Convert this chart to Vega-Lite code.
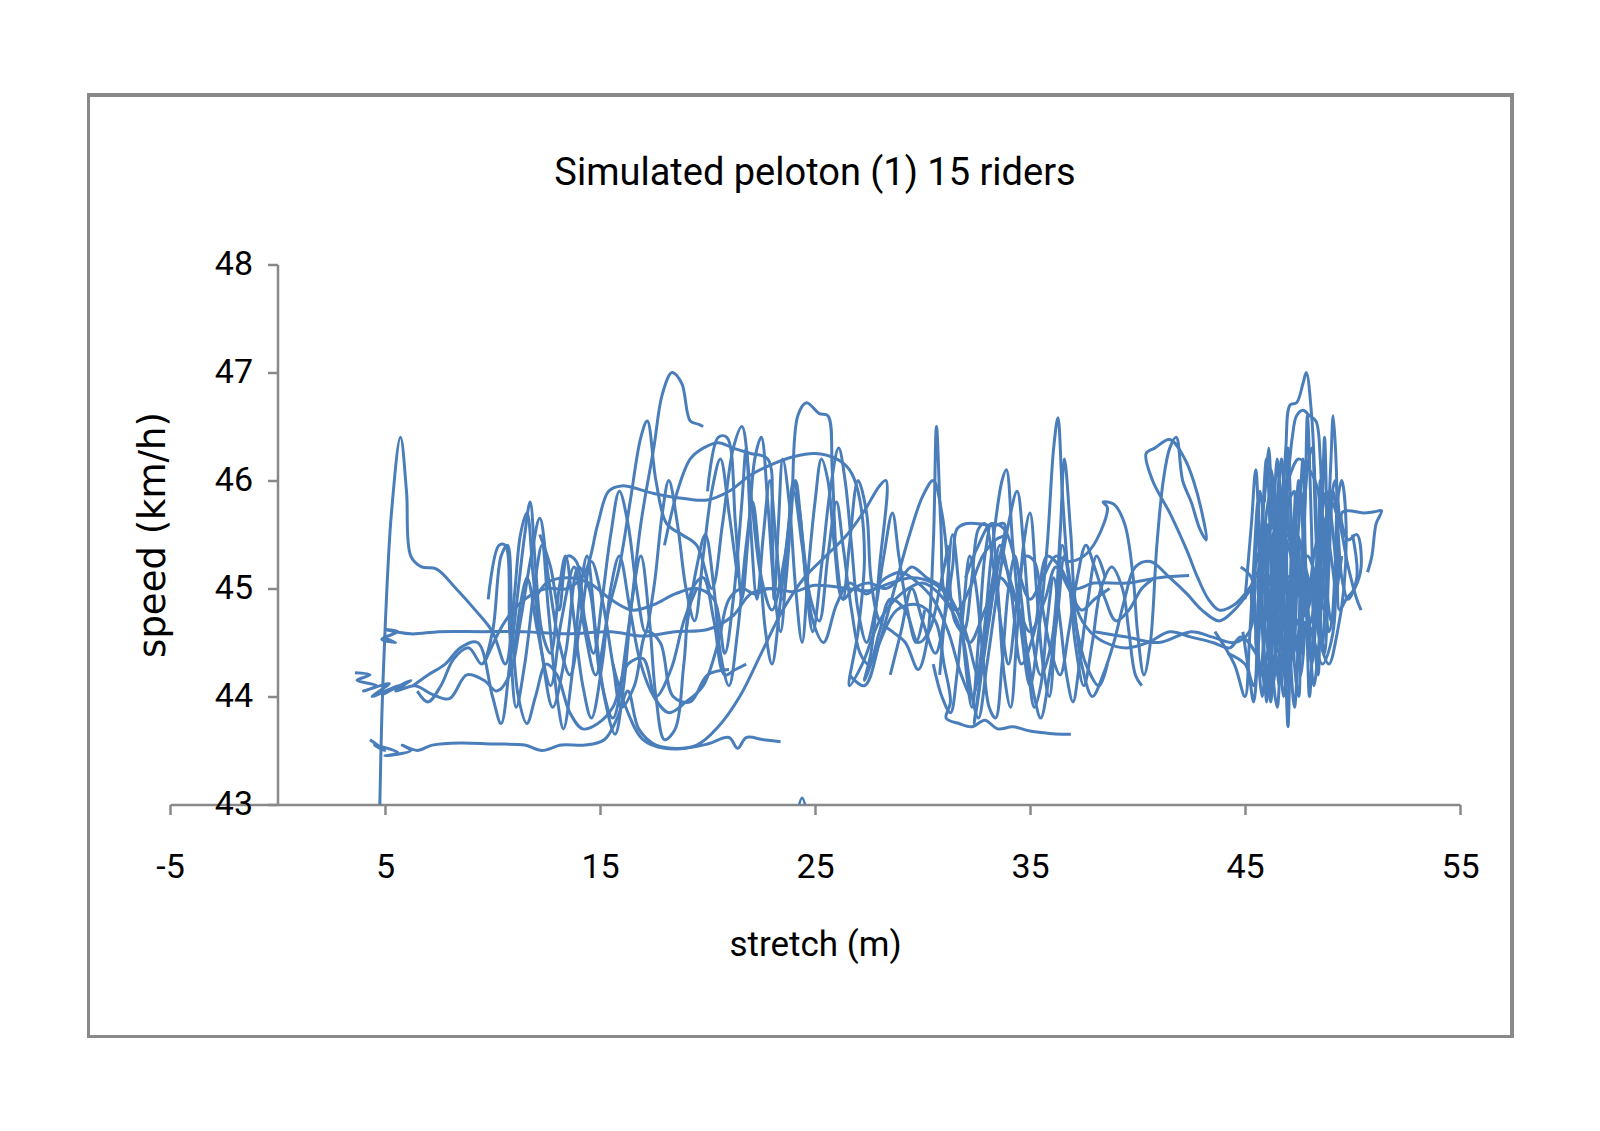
{
  "$schema": "https://vega.github.io/schema/vega-lite/v6.json",
  "autosize": "none",
  "width": 1290,
  "height": 540,
  "padding": {"left": 170, "top": 264.5, "right": 140, "bottom": 326.5},
  "background": "white",
  "config": {"view": {"stroke": null}, "font": "Roboto"},
  "title": {"text": "Simulated peloton (1) 15 riders", "fontSize": 38, "fontWeight": "normal", "color": "black", "offset": -99, "anchor": "middle", "font": "Roboto"},
  "data": {"values": [
{"r":1,"x":4.75,"y":42.9},{"r":1,"x":4.85,"y":43.8},{"r":1,"x":5.02,"y":44.7},{"r":1,"x":5.3,"y":45.7},{"r":1,"x":5.72,"y":46.4},{"r":1,"x":6.0,"y":45.9},{"r":1,"x":6.2,"y":45.3},{"r":1,"x":6.7,"y":45.2},{"r":1,"x":7.4,"y":45.18},{"r":1,"x":8.3,"y":45.0},{"r":1,"x":9.2,"y":44.8},{"r":1,"x":10.0,"y":44.6},{"r":1,"x":10.6,"y":44.3},{"r":1,"x":11.0,"y":44.9},{"r":1,"x":11.3,"y":45.5},{"r":1,"x":11.6,"y":45.7},{"r":1,"x":11.9,"y":45.1},{"r":1,"x":12.3,"y":44.4},{"r":1,"x":12.8,"y":43.9},{"r":1,"x":13.4,"y":44.4},{"r":1,"x":14.0,"y":45.2},{"r":1,"x":14.5,"y":45.0},{"r":1,"x":15.0,"y":44.2},{"r":1,"x":15.6,"y":43.8},{"r":1,"x":16.3,"y":44.6},{"r":1,"x":16.9,"y":45.6},{"r":1,"x":17.5,"y":46.3},{"r":1,"x":17.9,"y":46.8},{"r":1,"x":18.35,"y":47.0},{"r":1,"x":18.8,"y":46.9},{"r":1,"x":19.2,"y":46.55},{"r":1,"x":19.6,"y":46.52},{"r":1,"x":19.8,"y":46.5},
{"r":2,"x":4.9,"y":44.55},{"r":2,"x":5.5,"y":44.5},{"r":2,"x":4.85,"y":44.53},{"r":2,"x":5.6,"y":44.6},{"r":2,"x":5.0,"y":44.62},{"r":2,"x":6.2,"y":44.58},{"r":2,"x":7.5,"y":44.6},{"r":2,"x":9.5,"y":44.6},{"r":2,"x":11.5,"y":44.6},{"r":2,"x":13.5,"y":44.58},{"r":2,"x":15.5,"y":44.6},{"r":2,"x":17.0,"y":44.56},{"r":2,"x":18.5,"y":44.6},{"r":2,"x":20.0,"y":44.62},{"r":2,"x":21.2,"y":44.75},{"r":2,"x":22.0,"y":44.95},{"r":2,"x":23.0,"y":45.0},{"r":2,"x":24.0,"y":44.97},{"r":2,"x":25.0,"y":45.03},{"r":2,"x":26.5,"y":45.0},{"r":2,"x":27.5,"y":44.98},{"r":2,"x":28.5,"y":45.05},{"r":2,"x":29.5,"y":45.1},{"r":2,"x":30.5,"y":45.05},{"r":2,"x":31.3,"y":44.9},{"r":2,"x":32.0,"y":44.6},{"r":2,"x":32.6,"y":44.2},{"r":2,"x":33.1,"y":44.7},{"r":2,"x":33.6,"y":45.4},{"r":2,"x":34.1,"y":45.0},{"r":2,"x":34.6,"y":44.3},{"r":2,"x":35.2,"y":44.6},{"r":2,"x":35.8,"y":45.3},{"r":2,"x":36.4,"y":45.2},{"r":2,"x":37.0,"y":45.0},{"r":2,"x":38.0,"y":45.05},{"r":2,"x":39.5,"y":45.05},{"r":2,"x":41.0,"y":45.1},{"r":2,"x":42.4,"y":45.12},
{"r":3,"x":3.6,"y":44.22},{"r":3,"x":4.3,"y":44.2},{"r":3,"x":3.7,"y":44.15},{"r":3,"x":4.6,"y":44.1},{"r":3,"x":4.0,"y":44.05},{"r":3,"x":5.2,"y":44.12},{"r":3,"x":4.4,"y":44.0},{"r":3,"x":5.6,"y":44.1},{"r":3,"x":4.9,"y":44.02},{"r":3,"x":6.2,"y":44.15},{"r":3,"x":5.5,"y":44.05},{"r":3,"x":6.4,"y":44.1},{"r":3,"x":7.2,"y":44.02},{"r":3,"x":8.0,"y":43.98},{"r":3,"x":8.8,"y":44.2},{"r":3,"x":9.6,"y":44.15},{"r":3,"x":10.2,"y":44.05},{"r":3,"x":10.8,"y":44.2},{"r":3,"x":11.3,"y":44.7},{"r":3,"x":11.8,"y":45.3},{"r":3,"x":12.2,"y":45.65},{"r":3,"x":12.6,"y":45.1},{"r":3,"x":13.1,"y":44.5},{"r":3,"x":13.6,"y":44.2},{"r":3,"x":14.1,"y":44.7},{"r":3,"x":14.6,"y":45.25},{"r":3,"x":15.1,"y":44.9},{"r":3,"x":15.6,"y":44.3},{"r":3,"x":16.0,"y":43.9},{"r":3,"x":16.6,"y":44.1},{"r":3,"x":17.2,"y":44.6},{"r":3,"x":17.8,"y":44.5},{"r":3,"x":18.4,"y":44.0},{"r":3,"x":19.2,"y":43.95},{"r":3,"x":20.0,"y":44.2},{"r":3,"x":21.0,"y":44.25},
{"r":4,"x":4.3,"y":43.6},{"r":4,"x":5.0,"y":43.5},{"r":4,"x":4.5,"y":43.55},{"r":4,"x":5.6,"y":43.48},{"r":4,"x":5.0,"y":43.45},{"r":4,"x":6.2,"y":43.5},{"r":4,"x":5.8,"y":43.55},{"r":4,"x":6.5,"y":43.5},{"r":4,"x":7.2,"y":43.55},{"r":4,"x":8.5,"y":43.57},{"r":4,"x":10.0,"y":43.56},{"r":4,"x":11.5,"y":43.55},{"r":4,"x":12.3,"y":43.5},{"r":4,"x":13.2,"y":43.55},{"r":4,"x":14.3,"y":43.55},{"r":4,"x":15.2,"y":43.6},{"r":4,"x":15.8,"y":43.8},{"r":4,"x":16.3,"y":44.05},{"r":4,"x":16.8,"y":43.7},{"r":4,"x":17.6,"y":43.55},{"r":4,"x":18.8,"y":43.52},{"r":4,"x":20.0,"y":43.56},{"r":4,"x":21.0,"y":43.62},{"r":4,"x":21.4,"y":43.52},{"r":4,"x":21.8,"y":43.62},{"r":4,"x":22.6,"y":43.6},{"r":4,"x":23.4,"y":43.58},
{"r":5,"x":9.6,"y":44.3},{"r":5,"x":10.6,"y":44.7},{"r":5,"x":11.5,"y":44.9},{"r":5,"x":12.5,"y":45.0},{"r":5,"x":13.5,"y":45.0},{"r":5,"x":14.3,"y":45.15},{"r":5,"x":14.9,"y":45.6},{"r":5,"x":15.4,"y":45.9},{"r":5,"x":16.0,"y":45.95},{"r":5,"x":17.5,"y":45.88},{"r":5,"x":19.0,"y":45.83},{"r":5,"x":20.0,"y":45.82},{"r":5,"x":21.0,"y":45.9},{"r":5,"x":22.0,"y":46.05},{"r":5,"x":23.0,"y":46.15},{"r":5,"x":24.0,"y":46.22},{"r":5,"x":25.0,"y":46.25},{"r":5,"x":26.0,"y":46.2},{"r":5,"x":26.6,"y":46.1},{"r":5,"x":27.0,"y":45.9},{"r":5,"x":27.3,"y":45.3},{"r":5,"x":27.0,"y":44.6},{"r":5,"x":26.6,"y":44.1},{"r":5,"x":27.2,"y":44.3},{"r":5,"x":28.0,"y":44.7},{"r":5,"x":29.0,"y":44.95},{"r":5,"x":30.0,"y":45.05},{"r":5,"x":31.0,"y":44.9},{"r":5,"x":31.8,"y":44.6},{"r":5,"x":32.3,"y":44.0},{"r":5,"x":32.6,"y":43.8},{"r":5,"x":33.0,"y":44.3},{"r":5,"x":33.5,"y":45.0},{"r":5,"x":34.0,"y":45.6},{"r":5,"x":34.4,"y":45.9},{"r":5,"x":34.7,"y":45.4},{"r":5,"x":35.0,"y":44.7},{"r":5,"x":35.5,"y":44.2},{"r":5,"x":36.0,"y":44.5},{"r":5,"x":36.4,"y":45.5},{"r":5,"x":36.6,"y":46.2},{"r":5,"x":36.9,"y":45.5},{"r":5,"x":37.2,"y":44.8},{"r":5,"x":37.8,"y":44.6},{"r":5,"x":38.5,"y":44.5},{"r":5,"x":39.5,"y":44.45},{"r":5,"x":40.5,"y":44.5},{"r":5,"x":41.5,"y":44.6},{"r":5,"x":42.5,"y":44.55},{"r":5,"x":43.5,"y":44.5},{"r":5,"x":44.3,"y":44.45},{"r":5,"x":44.8,"y":44.55},{"r":5,"x":45.5,"y":44.4},{"r":5,"x":46.0,"y":44.0},
{"r":6,"x":15.6,"y":44.3},{"r":6,"x":16.2,"y":43.9},{"r":6,"x":17.0,"y":43.6},{"r":6,"x":18.0,"y":43.52},{"r":6,"x":19.5,"y":43.55},{"r":6,"x":20.5,"y":43.72},{"r":6,"x":21.5,"y":44.0},{"r":6,"x":22.5,"y":44.4},{"r":6,"x":23.5,"y":44.8},{"r":6,"x":24.5,"y":45.1},{"r":6,"x":25.5,"y":45.3},{"r":6,"x":26.5,"y":45.5},{"r":6,"x":27.3,"y":45.72},{"r":6,"x":28.0,"y":45.95},{"r":6,"x":28.3,"y":46.0},{"r":6,"x":28.0,"y":45.2},{"r":6,"x":27.6,"y":44.4},{"r":6,"x":27.3,"y":44.15},{"r":6,"x":28.0,"y":44.5},{"r":6,"x":28.8,"y":44.8},{"r":6,"x":29.8,"y":44.85},{"r":6,"x":30.6,"y":44.7},{"r":6,"x":31.0,"y":44.3},{"r":6,"x":31.3,"y":43.95},{"r":6,"x":31.1,"y":43.8},{"r":6,"x":31.7,"y":43.75},{"r":6,"x":32.3,"y":43.72},{"r":6,"x":32.9,"y":43.78},{"r":6,"x":33.5,"y":43.7},{"r":6,"x":34.2,"y":43.72},{"r":6,"x":35.0,"y":43.68},{"r":6,"x":35.8,"y":43.66},{"r":6,"x":36.5,"y":43.65},{"r":6,"x":36.9,"y":43.65},
{"r":7,"x":12.0,"y":44.9},{"r":7,"x":12.5,"y":45.05},{"r":7,"x":13.5,"y":45.1},{"r":7,"x":14.5,"y":45.05},{"r":7,"x":15.5,"y":44.9},{"r":7,"x":16.5,"y":44.8},{"r":7,"x":17.5,"y":44.85},{"r":7,"x":18.5,"y":44.95},{"r":7,"x":19.5,"y":45.0},{"r":7,"x":20.3,"y":44.9},{"r":7,"x":20.8,"y":44.4},{"r":7,"x":21.2,"y":44.9},{"r":7,"x":21.6,"y":45.8},{"r":7,"x":21.8,"y":46.3},{"r":7,"x":22.0,"y":45.6},{"r":7,"x":22.3,"y":44.9},{"r":7,"x":22.6,"y":45.5},{"r":7,"x":22.9,"y":46.0},{"r":7,"x":23.2,"y":45.4},{"r":7,"x":23.5,"y":44.9},{"r":7,"x":23.9,"y":45.7},{"r":7,"x":24.2,"y":46.6},{"r":7,"x":24.6,"y":46.72},{"r":7,"x":25.2,"y":46.62},{"r":7,"x":25.6,"y":46.6},{"r":7,"x":25.8,"y":46.1},{"r":7,"x":26.0,"y":45.3},{"r":7,"x":26.3,"y":44.9},{"r":7,"x":26.6,"y":45.4},{"r":7,"x":27.0,"y":46.0},{"r":7,"x":27.4,"y":45.7},{"r":7,"x":27.6,"y":45.1},{"r":7,"x":28.0,"y":44.7},{"r":7,"x":28.6,"y":44.6},{"r":7,"x":29.2,"y":44.5},{"r":7,"x":29.8,"y":44.25},{"r":7,"x":30.2,"y":44.5},{"r":7,"x":30.5,"y":45.4},{"r":7,"x":30.65,"y":46.5},{"r":7,"x":30.85,"y":45.6},{"r":7,"x":31.1,"y":44.9},{"r":7,"x":31.6,"y":44.8},{"r":7,"x":32.2,"y":45.0},{"r":7,"x":32.8,"y":45.3},{"r":7,"x":33.4,"y":45.45},{"r":7,"x":34.0,"y":45.5},
{"r":8,"x":11.0,"y":44.4},{"r":8,"x":11.6,"y":45.1},{"r":8,"x":12.1,"y":44.6},{"r":8,"x":12.7,"y":44.1},{"r":8,"x":13.2,"y":44.7},{"r":8,"x":13.8,"y":45.2},{"r":8,"x":14.3,"y":44.6},{"r":8,"x":14.8,"y":44.2},{"r":8,"x":15.4,"y":44.8},{"r":8,"x":15.9,"y":45.2},{"r":8,"x":16.4,"y":45.8},{"r":8,"x":16.9,"y":46.4},{"r":8,"x":17.2,"y":46.55},{"r":8,"x":17.6,"y":46.0},{"r":8,"x":18.1,"y":45.6},{"r":8,"x":18.8,"y":45.5},{"r":8,"x":19.5,"y":45.4},{"r":8,"x":20.2,"y":45.0},{"r":8,"x":20.7,"y":45.6},{"r":8,"x":21.2,"y":46.3},{"r":8,"x":21.6,"y":46.5},{"r":8,"x":22.0,"y":45.9},{"r":8,"x":22.5,"y":45.1},{"r":8,"x":23.0,"y":44.8},{"r":8,"x":23.6,"y":45.3},{"r":8,"x":24.0,"y":45.9},{"r":8,"x":24.4,"y":45.4},{"r":8,"x":24.9,"y":44.7},{"r":8,"x":25.4,"y":44.5},{"r":8,"x":26.0,"y":44.85},{"r":8,"x":26.6,"y":45.05},{"r":8,"x":27.4,"y":44.95},{"r":8,"x":28.3,"y":45.1},{"r":8,"x":29.0,"y":45.15},{"r":8,"x":29.8,"y":45.05},{"r":8,"x":30.5,"y":44.9},{"r":8,"x":31.2,"y":44.6},{"r":8,"x":31.8,"y":44.2},{"r":8,"x":32.3,"y":44.0},{"r":8,"x":32.8,"y":44.5},{"r":8,"x":33.2,"y":45.3},{"r":8,"x":33.7,"y":46.0},{"r":8,"x":33.9,"y":46.1},{"r":8,"x":34.2,"y":45.4},{"r":8,"x":34.6,"y":44.6},{"r":8,"x":35.0,"y":44.1},{"r":8,"x":35.4,"y":44.6},{"r":8,"x":35.8,"y":45.4},{"r":8,"x":36.1,"y":46.3},{"r":8,"x":36.3,"y":46.58},{"r":8,"x":36.5,"y":45.9},{"r":8,"x":36.8,"y":45.1},{"r":8,"x":37.2,"y":44.6},{"r":8,"x":37.6,"y":44.3},{"r":8,"x":38.2,"y":44.1},{"r":8,"x":38.6,"y":44.3},
{"r":9,"x":32.0,"y":45.1},{"r":9,"x":32.6,"y":45.4},{"r":9,"x":33.2,"y":45.6},{"r":9,"x":33.8,"y":45.55},{"r":9,"x":34.4,"y":45.2},{"r":9,"x":35.0,"y":44.9},{"r":9,"x":35.6,"y":45.1},{"r":9,"x":36.2,"y":45.3},{"r":9,"x":36.8,"y":45.25},{"r":9,"x":37.5,"y":45.3},{"r":9,"x":38.1,"y":45.45},{"r":9,"x":38.6,"y":45.75},{"r":9,"x":38.4,"y":45.8},{"r":9,"x":38.9,"y":45.78},{"r":9,"x":39.4,"y":45.6},{"r":9,"x":39.8,"y":45.1},{"r":9,"x":40.0,"y":44.6},{"r":9,"x":40.3,"y":44.2},{"r":9,"x":40.6,"y":44.5},{"r":9,"x":40.9,"y":45.4},{"r":9,"x":41.2,"y":46.0},{"r":9,"x":41.5,"y":46.3},{"r":9,"x":41.8,"y":46.4},{"r":9,"x":42.1,"y":46.0},{"r":9,"x":42.5,"y":45.8},{"r":9,"x":42.9,"y":45.55},{"r":9,"x":43.2,"y":45.45},{"r":9,"x":43.0,"y":45.7},{"r":9,"x":42.6,"y":46.0},{"r":9,"x":42.2,"y":46.2},{"r":9,"x":41.5,"y":46.38},{"r":9,"x":40.8,"y":46.3},{"r":9,"x":40.4,"y":46.25},{"r":9,"x":40.7,"y":46.0},{"r":9,"x":41.5,"y":45.7},{"r":9,"x":42.3,"y":45.35},{"r":9,"x":42.8,"y":45.1},{"r":9,"x":43.3,"y":44.9},{"r":9,"x":43.8,"y":44.8},{"r":9,"x":44.5,"y":44.85},{"r":9,"x":45.2,"y":45.0},{"r":9,"x":45.8,"y":45.2},{"r":9,"x":46.3,"y":45.0},{"r":9,"x":46.7,"y":44.6},{"r":9,"x":47.0,"y":44.9},{"r":9,"x":47.3,"y":45.3},
{"r":10,"x":28.5,"y":44.2},{"r":10,"x":29.0,"y":44.6},{"r":10,"x":29.5,"y":45.0},{"r":10,"x":30.0,"y":44.7},{"r":10,"x":30.6,"y":44.4},{"r":10,"x":31.0,"y":44.7},{"r":10,"x":31.4,"y":45.2},{"r":10,"x":31.6,"y":45.55},{"r":10,"x":32.0,"y":45.6},{"r":10,"x":32.6,"y":45.6},{"r":10,"x":33.3,"y":45.58},{"r":10,"x":33.8,"y":45.6},{"r":10,"x":33.5,"y":45.2},{"r":10,"x":33.0,"y":44.6},{"r":10,"x":32.6,"y":44.0},{"r":10,"x":32.4,"y":43.75},{"r":10,"x":32.7,"y":44.2},{"r":10,"x":33.1,"y":44.9},{"r":10,"x":33.6,"y":45.3},{"r":10,"x":34.2,"y":45.0},{"r":10,"x":34.8,"y":44.5},{"r":10,"x":35.2,"y":44.0},{"r":10,"x":35.5,"y":43.8},{"r":10,"x":35.9,"y":44.2},{"r":10,"x":36.3,"y":44.8},{"r":10,"x":36.6,"y":45.3},{"r":10,"x":37.0,"y":44.9},{"r":10,"x":37.4,"y":44.3},{"r":10,"x":37.9,"y":44.0},{"r":10,"x":38.4,"y":44.2},{"r":10,"x":38.9,"y":44.5},{"r":10,"x":39.4,"y":44.9},{"r":10,"x":39.9,"y":45.2},{"r":10,"x":40.6,"y":45.25},{"r":10,"x":41.5,"y":45.1},{"r":10,"x":42.3,"y":44.95},{"r":10,"x":43.0,"y":44.8},{"r":10,"x":43.8,"y":44.7},{"r":10,"x":44.5,"y":44.8},{"r":10,"x":45.3,"y":45.0},
{"r":11,"x":44.2,"y":44.4},{"r":11,"x":45.0,"y":44.3},{"r":11,"x":45.4,"y":44.1},{"r":11,"x":45.6,"y":44.8},{"r":11,"x":45.8,"y":45.6},{"r":11,"x":46.0,"y":46.2},{"r":11,"x":46.2,"y":45.3},{"r":11,"x":46.3,"y":44.2},{"r":11,"x":46.5,"y":43.9},{"r":11,"x":46.7,"y":44.8},{"r":11,"x":46.9,"y":45.6},{"r":11,"x":47.0,"y":46.3},{"r":11,"x":47.2,"y":45.2},{"r":11,"x":47.3,"y":44.3},{"r":11,"x":47.5,"y":44.0},{"r":11,"x":47.6,"y":44.9},{"r":11,"x":47.8,"y":45.8},{"r":11,"x":47.9,"y":46.6},{"r":11,"x":48.1,"y":45.5},{"r":11,"x":48.2,"y":44.6},{"r":11,"x":48.4,"y":44.2},{"r":11,"x":48.5,"y":45.0},{"r":11,"x":48.6,"y":45.8},{"r":11,"x":48.7,"y":46.4},{"r":11,"x":48.8,"y":45.4},{"r":11,"x":48.7,"y":44.8},{"r":11,"x":48.3,"y":45.1},{"r":11,"x":47.9,"y":45.3},{"r":11,"x":47.4,"y":45.0},{"r":11,"x":46.9,"y":44.7},{"r":11,"x":46.4,"y":45.1},{"r":11,"x":46.0,"y":45.4},{"r":11,"x":45.7,"y":44.9},{"r":11,"x":45.5,"y":44.5},{"r":11,"x":45.8,"y":44.2},{"r":11,"x":46.2,"y":44.6},{"r":11,"x":46.6,"y":45.2},{"r":11,"x":47.1,"y":45.6},{"r":11,"x":47.5,"y":45.2},{"r":11,"x":47.9,"y":44.9},{"r":11,"x":48.2,"y":45.3},{"r":11,"x":48.5,"y":45.6},{"r":11,"x":48.8,"y":45.9},{"r":11,"x":49.1,"y":45.5},{"r":11,"x":49.3,"y":45.0},
{"r":12,"x":38.0,"y":44.6},{"r":12,"x":39.5,"y":44.55},{"r":12,"x":41.0,"y":44.5},{"r":12,"x":42.5,"y":44.6},{"r":12,"x":43.5,"y":44.55},{"r":12,"x":44.5,"y":44.5},{"r":12,"x":45.2,"y":44.6},{"r":12,"x":45.5,"y":45.3},{"r":12,"x":45.7,"y":45.9},{"r":12,"x":45.9,"y":45.5},{"r":12,"x":46.1,"y":44.7},{"r":12,"x":46.3,"y":44.1},{"r":12,"x":46.5,"y":44.6},{"r":12,"x":46.7,"y":45.5},{"r":12,"x":46.9,"y":46.3},{"r":12,"x":47.1,"y":46.7},{"r":12,"x":47.4,"y":46.72},{"r":12,"x":47.7,"y":46.9},{"r":12,"x":47.85,"y":47.0},{"r":12,"x":48.1,"y":46.6},{"r":12,"x":48.3,"y":45.7},{"r":12,"x":48.4,"y":44.9},{"r":12,"x":48.6,"y":44.5},{"r":12,"x":48.8,"y":45.3},{"r":12,"x":49.0,"y":46.2},{"r":12,"x":49.1,"y":46.6},{"r":12,"x":49.25,"y":46.1},{"r":12,"x":49.3,"y":45.3},{"r":12,"x":49.4,"y":44.8},{"r":12,"x":49.7,"y":44.9},{"r":12,"x":50.1,"y":45.0},{"r":12,"x":50.4,"y":45.2},{"r":12,"x":50.2,"y":45.5},{"r":12,"x":49.8,"y":45.45},{"r":12,"x":49.5,"y":45.7},{"r":12,"x":49.8,"y":45.72},{"r":12,"x":50.5,"y":45.7},{"r":12,"x":51.0,"y":45.71},{"r":12,"x":51.35,"y":45.72},{"r":12,"x":51.1,"y":45.6},{"r":12,"x":50.9,"y":45.3},{"r":12,"x":50.7,"y":45.15},
{"r":13,"x":43.6,"y":44.6},{"r":13,"x":44.5,"y":44.3},{"r":13,"x":45.0,"y":44.0},{"r":13,"x":45.2,"y":44.5},{"r":13,"x":45.4,"y":45.2},{"r":13,"x":45.6,"y":45.8},{"r":13,"x":45.7,"y":45.3},{"r":13,"x":45.9,"y":44.4},{"r":13,"x":46.0,"y":43.95},{"r":13,"x":46.2,"y":44.7},{"r":13,"x":46.4,"y":45.5},{"r":13,"x":46.6,"y":46.0},{"r":13,"x":46.8,"y":45.1},{"r":13,"x":46.9,"y":44.2},{"r":13,"x":47.0,"y":43.72},{"r":13,"x":47.1,"y":44.3},{"r":13,"x":47.3,"y":45.0},{"r":13,"x":47.5,"y":45.6},{"r":13,"x":47.7,"y":46.2},{"r":13,"x":47.8,"y":45.3},{"r":13,"x":47.9,"y":44.5},{"r":13,"x":48.0,"y":44.0},{"r":13,"x":48.2,"y":44.7},{"r":13,"x":48.4,"y":45.4},{"r":13,"x":48.5,"y":46.0},{"r":13,"x":48.6,"y":45.4},{"r":13,"x":48.3,"y":44.9},{"r":13,"x":47.8,"y":44.6},{"r":13,"x":47.2,"y":44.8},{"r":13,"x":46.8,"y":45.2},{"r":13,"x":46.3,"y":45.0},{"r":13,"x":45.9,"y":44.7},{"r":13,"x":45.6,"y":45.0},{"r":13,"x":45.9,"y":45.4},{"r":13,"x":46.4,"y":45.3},{"r":13,"x":46.9,"y":45.0},{"r":13,"x":47.4,"y":44.7},{"r":13,"x":47.9,"y":44.8},{"r":13,"x":48.3,"y":45.2},{"r":13,"x":48.7,"y":45.6},{"r":13,"x":49.0,"y":45.8},{"r":13,"x":49.4,"y":45.6},{"r":13,"x":49.8,"y":45.2},{"r":13,"x":50.2,"y":44.9},{"r":13,"x":50.4,"y":44.8},
{"r":14,"x":6.3,"y":44.1},{"r":14,"x":7.0,"y":44.2},{"r":14,"x":7.8,"y":44.3},{"r":14,"x":8.5,"y":44.45},{"r":14,"x":9.3,"y":44.5},{"r":14,"x":10.0,"y":44.0},{"r":14,"x":10.4,"y":43.75},{"r":14,"x":10.8,"y":44.3},{"r":14,"x":11.2,"y":45.0},{"r":14,"x":11.5,"y":45.5},{"r":14,"x":11.75,"y":45.8},{"r":14,"x":12.0,"y":45.2},{"r":14,"x":12.3,"y":44.6},{"r":14,"x":12.7,"y":44.4},{"r":14,"x":13.1,"y":45.0},{"r":14,"x":13.4,"y":45.3},{"r":14,"x":13.8,"y":44.7},{"r":14,"x":14.2,"y":44.1},{"r":14,"x":14.6,"y":43.8},{"r":14,"x":15.1,"y":44.3},{"r":14,"x":15.5,"y":45.0},{"r":14,"x":15.9,"y":45.3},{"r":14,"x":16.4,"y":44.8},{"r":14,"x":16.9,"y":44.3},{"r":14,"x":17.5,"y":44.0},{"r":14,"x":18.2,"y":43.85},{"r":14,"x":19.0,"y":43.95},{"r":14,"x":19.8,"y":44.1},{"r":14,"x":20.5,"y":44.5},{"r":14,"x":21.0,"y":44.9},{"r":14,"x":21.6,"y":45.0},{"r":14,"x":22.2,"y":44.95},{"r":14,"x":22.8,"y":45.0},{"r":14,"x":23.4,"y":44.98},
{"r":15,"x":18.0,"y":45.4},{"r":15,"x":18.6,"y":45.9},{"r":15,"x":19.2,"y":46.2},{"r":15,"x":19.8,"y":46.3},{"r":15,"x":20.5,"y":46.35},{"r":15,"x":21.2,"y":46.3},{"r":15,"x":22.0,"y":46.25},{"r":15,"x":22.8,"y":46.2},{"r":15,"x":23.0,"y":45.6},{"r":15,"x":23.1,"y":44.9},{"r":15,"x":23.3,"y":45.6},{"r":15,"x":23.5,"y":46.2},{"r":15,"x":23.8,"y":45.8},{"r":15,"x":24.1,"y":45.0},{"r":15,"x":24.4,"y":44.5},{"r":15,"x":24.7,"y":45.2},{"r":15,"x":25.0,"y":45.8},{"r":15,"x":25.3,"y":46.2},{"r":15,"x":25.6,"y":46.0},{"r":15,"x":25.9,"y":45.4},{"r":15,"x":26.3,"y":44.9},{"r":15,"x":26.8,"y":45.0},{"r":15,"x":27.5,"y":45.05},{"r":15,"x":28.3,"y":45.0},{"r":15,"x":29.0,"y":45.1},{"r":15,"x":29.5,"y":45.2},{"r":15,"x":30.2,"y":45.1},{"r":15,"x":31.0,"y":45.0},{"r":15,"x":31.6,"y":44.8},{"r":15,"x":32.2,"y":44.5},{"r":15,"x":32.9,"y":44.8},{"r":15,"x":33.6,"y":45.1},{"r":15,"x":34.3,"y":44.9},{"r":15,"x":35.0,"y":44.6},{"r":15,"x":35.7,"y":44.9},{"r":15,"x":36.2,"y":45.2},{"r":15,"x":36.8,"y":45.0},{"r":15,"x":37.4,"y":44.8},{"r":15,"x":38.0,"y":44.9},{"r":15,"x":38.7,"y":45.0},
{"r":16,"x":23.9,"y":42.6},{"r":16,"x":24.4,"y":43.06},{"r":16,"x":24.9,"y":42.6},
{"r":17,"x":9.8,"y":44.9},{"r":17,"x":10.3,"y":45.4},{"r":17,"x":10.6,"y":45.4},{"r":17,"x":10.8,"y":44.6},{"r":17,"x":11.1,"y":43.9},{"r":17,"x":11.5,"y":44.3},{"r":17,"x":12.0,"y":45.1},{"r":17,"x":12.3,"y":45.4},{"r":17,"x":12.6,"y":44.8},{"r":17,"x":13.0,"y":44.0},{"r":17,"x":13.3,"y":43.7},{"r":17,"x":13.7,"y":44.2},{"r":17,"x":14.1,"y":45.0},{"r":17,"x":14.4,"y":45.3},{"r":17,"x":14.8,"y":44.6},{"r":17,"x":15.2,"y":44.0},{"r":17,"x":15.7,"y":43.65},{"r":17,"x":16.1,"y":44.1},{"r":17,"x":16.5,"y":44.9},{"r":17,"x":16.9,"y":45.3},{"r":17,"x":17.3,"y":44.7},{"r":17,"x":17.6,"y":44.0},{"r":17,"x":18.0,"y":43.6},{"r":17,"x":18.5,"y":43.7},{"r":17,"x":18.9,"y":44.3},{"r":17,"x":19.3,"y":45.0},{"r":17,"x":19.8,"y":45.1},{"r":17,"x":20.3,"y":44.7},{"r":17,"x":20.8,"y":44.2},{"r":17,"x":21.3,"y":44.25},{"r":17,"x":21.8,"y":44.3},
{"r":18,"x":20.0,"y":45.9},{"r":18,"x":20.5,"y":46.4},{"r":18,"x":20.9,"y":46.4},{"r":18,"x":21.3,"y":45.6},{"r":18,"x":21.6,"y":44.9},{"r":18,"x":21.9,"y":45.5},{"r":18,"x":22.2,"y":46.2},{"r":18,"x":22.5,"y":46.4},{"r":18,"x":22.8,"y":45.8},{"r":18,"x":23.1,"y":45.0},{"r":18,"x":23.4,"y":44.6},{"r":18,"x":23.7,"y":45.3},{"r":18,"x":24.0,"y":46.0},{"r":18,"x":24.3,"y":45.7},{"r":18,"x":24.6,"y":45.0},{"r":18,"x":24.9,"y":44.6},{"r":18,"x":25.3,"y":45.2},{"r":18,"x":25.7,"y":45.9},{"r":18,"x":26.1,"y":46.3},{"r":18,"x":26.4,"y":46.0},{"r":18,"x":26.7,"y":45.4},{"r":18,"x":27.0,"y":44.8},{"r":18,"x":27.4,"y":44.5},{"r":18,"x":27.8,"y":44.8},{"r":18,"x":28.2,"y":45.3},{"r":18,"x":28.6,"y":45.7},{"r":18,"x":28.9,"y":45.3},{"r":18,"x":29.3,"y":44.8},{"r":18,"x":29.7,"y":44.5},{"r":18,"x":30.1,"y":44.8},
{"r":19,"x":30.8,"y":44.2},{"r":19,"x":31.1,"y":44.9},{"r":19,"x":31.4,"y":45.5},{"r":19,"x":31.7,"y":45.0},{"r":19,"x":32.0,"y":44.3},{"r":19,"x":32.3,"y":43.9},{"r":19,"x":32.6,"y":44.5},{"r":19,"x":32.9,"y":45.3},{"r":19,"x":33.2,"y":45.6},{"r":19,"x":33.5,"y":45.0},{"r":19,"x":33.8,"y":44.2},{"r":19,"x":34.1,"y":43.9},{"r":19,"x":34.4,"y":44.6},{"r":19,"x":34.7,"y":45.4},{"r":19,"x":35.0,"y":45.7},{"r":19,"x":35.3,"y":45.0},{"r":19,"x":35.6,"y":44.3},{"r":19,"x":35.9,"y":44.0},{"r":19,"x":36.2,"y":44.7},{"r":19,"x":36.5,"y":45.4},{"r":19,"x":36.8,"y":45.1},{"r":19,"x":37.1,"y":44.5},{"r":19,"x":37.5,"y":44.1},{"r":19,"x":37.9,"y":44.5},{"r":19,"x":38.3,"y":45.0},{"r":19,"x":38.8,"y":45.2},{"r":19,"x":39.3,"y":45.0},{"r":19,"x":39.6,"y":44.6},{"r":19,"x":39.9,"y":44.2},{"r":19,"x":40.2,"y":44.1},
{"r":20,"x":44.8,"y":45.2},{"r":20,"x":45.3,"y":45.1},{"r":20,"x":45.5,"y":44.6},{"r":20,"x":45.7,"y":44.2},{"r":20,"x":45.9,"y":44.6},{"r":20,"x":46.1,"y":45.3},{"r":20,"x":46.3,"y":45.9},{"r":20,"x":46.5,"y":45.4},{"r":20,"x":46.7,"y":44.7},{"r":20,"x":46.9,"y":44.1},{"r":20,"x":47.1,"y":44.5},{"r":20,"x":47.3,"y":45.3},{"r":20,"x":47.5,"y":46.0},{"r":20,"x":47.7,"y":45.5},{"r":20,"x":47.9,"y":44.8},{"r":20,"x":48.1,"y":44.3},{"r":20,"x":48.3,"y":44.7},{"r":20,"x":48.5,"y":45.4},{"r":20,"x":48.4,"y":45.9},{"r":20,"x":48.0,"y":46.1},{"r":20,"x":47.5,"y":46.2},{"r":20,"x":47.0,"y":46.0},{"r":20,"x":46.6,"y":45.7},{"r":20,"x":46.2,"y":45.4},{"r":20,"x":45.9,"y":45.0},{"r":20,"x":46.2,"y":44.6},{"r":20,"x":46.6,"y":44.4},{"r":20,"x":47.0,"y":44.3},{"r":20,"x":47.4,"y":44.5},{"r":20,"x":47.8,"y":44.9},{"r":20,"x":48.2,"y":45.1},{"r":20,"x":48.6,"y":45.0},{"r":20,"x":48.9,"y":44.6},{"r":20,"x":49.2,"y":44.9},{"r":20,"x":49.5,"y":45.3},
{"r":21,"x":45.0,"y":44.9},{"r":21,"x":45.3,"y":45.6},{"r":21,"x":45.5,"y":46.1},{"r":21,"x":45.7,"y":45.2},{"r":21,"x":45.9,"y":44.3},{"r":21,"x":46.1,"y":44.0},{"r":21,"x":46.3,"y":44.8},{"r":21,"x":46.5,"y":45.7},{"r":21,"x":46.7,"y":46.2},{"r":21,"x":46.9,"y":45.3},{"r":21,"x":47.1,"y":44.4},{"r":21,"x":47.3,"y":43.9},{"r":21,"x":47.5,"y":44.6},{"r":21,"x":47.7,"y":45.5},{"r":21,"x":47.9,"y":46.1},{"r":21,"x":48.1,"y":46.3},{"r":21,"x":48.3,"y":45.5},{"r":21,"x":48.5,"y":44.7},{"r":21,"x":48.7,"y":44.4},{"r":21,"x":48.9,"y":45.2},{"r":21,"x":49.1,"y":45.9},{"r":21,"x":49.3,"y":45.6},{"r":21,"x":49.5,"y":45.1},{"r":21,"x":49.8,"y":44.9},{"r":21,"x":50.2,"y":45.1},{"r":21,"x":50.0,"y":45.5},
{"r":22,"x":6.5,"y":44.05},{"r":22,"x":7.0,"y":43.95},{"r":22,"x":7.6,"y":44.1},{"r":22,"x":8.2,"y":44.35},{"r":22,"x":8.9,"y":44.45},{"r":22,"x":9.5,"y":44.3},{"r":22,"x":10.0,"y":44.6},{"r":22,"x":10.4,"y":45.3},{"r":22,"x":10.7,"y":45.4},{"r":22,"x":10.9,"y":44.7},{"r":22,"x":11.2,"y":44.0},{"r":22,"x":11.6,"y":43.75},{"r":22,"x":12.0,"y":44.0},{"r":22,"x":12.5,"y":44.3},{"r":22,"x":13.0,"y":44.2},{"r":22,"x":13.6,"y":43.85},{"r":22,"x":14.2,"y":43.7},{"r":22,"x":14.9,"y":43.75},{"r":22,"x":15.6,"y":43.9},{"r":22,"x":16.3,"y":44.3},{"r":22,"x":17.0,"y":44.35},{"r":22,"x":17.6,"y":44.0},{"r":22,"x":18.3,"y":44.25},{"r":22,"x":18.9,"y":44.7},{"r":22,"x":19.5,"y":45.0},
{"r":23,"x":19.0,"y":44.6},{"r":23,"x":19.5,"y":45.2},{"r":23,"x":19.9,"y":45.5},{"r":23,"x":20.3,"y":45.0},{"r":23,"x":20.6,"y":44.4},{"r":23,"x":21.0,"y":44.1},{"r":23,"x":21.4,"y":44.6},{"r":23,"x":21.8,"y":45.4},{"r":23,"x":22.1,"y":45.8},{"r":23,"x":22.4,"y":45.3},{"r":23,"x":22.7,"y":44.6},{"r":23,"x":23.0,"y":44.3},{"r":23,"x":23.4,"y":44.9},{"r":23,"x":23.8,"y":45.6},{"r":23,"x":24.1,"y":46.0},{"r":23,"x":24.4,"y":45.5},{"r":23,"x":24.8,"y":44.9},{"r":23,"x":25.2,"y":44.7},{"r":23,"x":25.6,"y":45.3},{"r":23,"x":26.0,"y":45.8},{"r":23,"x":26.3,"y":45.4},{"r":23,"x":26.7,"y":44.8},{"r":23,"x":27.1,"y":44.4},{"r":23,"x":27.5,"y":44.3},{"r":23,"x":28.0,"y":44.6},{"r":23,"x":28.5,"y":44.9},{"r":23,"x":29.2,"y":44.8},{"r":23,"x":29.8,"y":44.5},{"r":23,"x":30.3,"y":44.6},{"r":23,"x":30.8,"y":45.0},{"r":23,"x":31.2,"y":45.4},
{"r":24,"x":26.6,"y":44.2},{"r":24,"x":27.3,"y":44.1},{"r":24,"x":28.0,"y":44.5},{"r":24,"x":28.7,"y":45.0},{"r":24,"x":29.4,"y":45.5},{"r":24,"x":30.0,"y":45.85},{"r":24,"x":30.5,"y":46.0},{"r":24,"x":30.9,"y":45.7},{"r":24,"x":31.2,"y":45.2},{"r":24,"x":31.5,"y":44.7},{"r":24,"x":31.9,"y":44.6},{"r":24,"x":32.3,"y":45.1},{"r":24,"x":32.6,"y":45.55},{"r":24,"x":32.9,"y":45.6},{"r":24,"x":33.3,"y":45.2},{"r":24,"x":33.7,"y":44.6},{"r":24,"x":34.0,"y":44.3},{"r":24,"x":34.4,"y":44.9},{"r":24,"x":34.8,"y":45.3},{"r":24,"x":35.2,"y":45.25},{"r":24,"x":35.6,"y":44.8},{"r":24,"x":36.0,"y":44.4},{"r":24,"x":36.4,"y":44.2},{"r":24,"x":36.8,"y":44.6},{"r":24,"x":37.2,"y":45.1},{"r":24,"x":37.6,"y":45.4},{"r":24,"x":38.0,"y":45.2},{"r":24,"x":38.5,"y":44.9},{"r":24,"x":39.0,"y":44.7},{"r":24,"x":39.6,"y":44.8},{"r":24,"x":40.2,"y":45.0},{"r":24,"x":40.8,"y":45.1},
{"r":25,"x":44.9,"y":44.6},{"r":25,"x":45.2,"y":44.2},{"r":25,"x":45.4,"y":43.95},{"r":25,"x":45.6,"y":44.4},{"r":25,"x":45.8,"y":45.1},{"r":25,"x":46.0,"y":45.7},{"r":25,"x":46.2,"y":45.9},{"r":25,"x":46.4,"y":45.3},{"r":25,"x":46.6,"y":44.5},{"r":25,"x":46.8,"y":44.0},{"r":25,"x":47.0,"y":44.4},{"r":25,"x":47.2,"y":45.1},{"r":25,"x":47.4,"y":45.7},{"r":25,"x":47.6,"y":45.9},{"r":25,"x":47.8,"y":45.3},{"r":25,"x":48.0,"y":44.6},{"r":25,"x":48.2,"y":44.1},{"r":25,"x":48.4,"y":44.4},{"r":25,"x":48.6,"y":45.0},{"r":25,"x":48.8,"y":45.5},{"r":25,"x":49.0,"y":45.3},{"r":25,"x":49.2,"y":44.9},{"r":25,"x":49.0,"y":44.5},{"r":25,"x":48.6,"y":44.3},{"r":25,"x":48.1,"y":44.6},{"r":25,"x":47.6,"y":44.9},{"r":25,"x":47.1,"y":45.1},{"r":25,"x":46.6,"y":45.1},{"r":25,"x":46.1,"y":44.9},{"r":25,"x":45.6,"y":44.7},{"r":25,"x":45.3,"y":44.9},{"r":25,"x":45.6,"y":45.3},{"r":25,"x":46.0,"y":45.5},{"r":25,"x":46.5,"y":45.6},{"r":25,"x":47.0,"y":45.4},{"r":25,"x":47.5,"y":45.0},{"r":25,"x":48.0,"y":44.9},{"r":25,"x":48.5,"y":45.3},{"r":25,"x":48.9,"y":45.7},{"r":25,"x":49.2,"y":46.0},{"r":25,"x":49.4,"y":45.6},
{"r":26,"x":45.6,"y":45.0},{"r":26,"x":45.8,"y":45.6},{"r":26,"x":46.0,"y":46.0},{"r":26,"x":46.2,"y":46.1},{"r":26,"x":46.4,"y":45.6},{"r":26,"x":46.6,"y":45.0},{"r":26,"x":46.8,"y":45.4},{"r":26,"x":47.0,"y":46.0},{"r":26,"x":47.2,"y":46.4},{"r":26,"x":47.4,"y":46.6},{"r":26,"x":47.7,"y":46.65},{"r":26,"x":48.0,"y":46.6},{"r":26,"x":48.3,"y":46.55},{"r":26,"x":48.5,"y":46.2},{"r":26,"x":48.6,"y":45.6},{"r":26,"x":48.8,"y":45.0},{"r":26,"x":49.0,"y":44.7},{"r":26,"x":49.2,"y":45.2},{"r":26,"x":49.3,"y":45.8},{"r":26,"x":49.5,"y":46.0},{"r":26,"x":49.7,"y":45.6},{"r":26,"x":49.6,"y":45.0},{"r":26,"x":49.3,"y":44.6},{"r":26,"x":48.9,"y":44.3},{"r":26,"x":48.5,"y":44.5},{"r":26,"x":48.2,"y":44.9},{"r":26,"x":47.8,"y":45.2},{"r":26,"x":47.4,"y":45.5},{"r":26,"x":47.0,"y":45.5},{"r":26,"x":46.6,"y":45.3},{"r":26,"x":46.3,"y":44.9},{"r":26,"x":46.1,"y":44.5},
{"r":27,"x":30.5,"y":44.3},{"r":27,"x":30.9,"y":44.0},{"r":27,"x":31.3,"y":43.85},{"r":27,"x":31.6,"y":44.2},{"r":27,"x":31.9,"y":44.8},{"r":27,"x":32.2,"y":45.3},{"r":27,"x":32.5,"y":45.0},{"r":27,"x":32.8,"y":44.4},{"r":27,"x":33.1,"y":43.9},{"r":27,"x":33.4,"y":43.8},{"r":27,"x":33.7,"y":44.3},{"r":27,"x":34.0,"y":45.0},{"r":27,"x":34.3,"y":45.3},{"r":27,"x":34.6,"y":44.9},{"r":27,"x":34.9,"y":44.3},{"r":27,"x":35.2,"y":43.9},{"r":27,"x":35.5,"y":44.1},{"r":27,"x":35.8,"y":44.7},{"r":27,"x":36.1,"y":45.1},{"r":27,"x":36.4,"y":44.7},{"r":27,"x":36.7,"y":44.2},{"r":27,"x":37.0,"y":43.95},{"r":27,"x":37.3,"y":44.3},{"r":27,"x":37.7,"y":44.9},{"r":27,"x":38.1,"y":45.3},{"r":27,"x":38.5,"y":45.1},
{"r":28,"x":12.2,"y":45.5},{"r":28,"x":12.7,"y":45.2},{"r":28,"x":13.1,"y":44.8},{"r":28,"x":13.5,"y":45.3},{"r":28,"x":13.9,"y":45.25},{"r":28,"x":14.3,"y":44.7},{"r":28,"x":14.7,"y":44.4},{"r":28,"x":15.1,"y":44.9},{"r":28,"x":15.5,"y":45.5},{"r":28,"x":15.9,"y":45.9},{"r":28,"x":16.3,"y":45.6},{"r":28,"x":16.7,"y":45.0},{"r":28,"x":17.1,"y":44.6},{"r":28,"x":17.5,"y":45.0},{"r":28,"x":17.9,"y":45.7},{"r":28,"x":18.2,"y":46.0},{"r":28,"x":18.6,"y":45.6},{"r":28,"x":19.0,"y":45.0},{"r":28,"x":19.4,"y":44.7},{"r":28,"x":19.8,"y":45.3},{"r":28,"x":20.2,"y":45.9},{"r":28,"x":20.6,"y":46.2},{"r":28,"x":21.0,"y":45.7},{"r":28,"x":21.4,"y":45.1},
{"r":29,"x":45.8,"y":45.0},{"r":29,"x":46.0,"y":45.6},{"r":29,"x":46.1,"y":44.5},{"r":29,"x":46.3,"y":45.5},{"r":29,"x":46.4,"y":44.4},{"r":29,"x":46.6,"y":45.7},{"r":29,"x":46.7,"y":44.6},{"r":29,"x":46.9,"y":45.5},{"r":29,"x":47.0,"y":44.3},{"r":29,"x":47.2,"y":45.6},{"r":29,"x":47.3,"y":44.5},{"r":29,"x":47.5,"y":45.4},{"r":29,"x":47.6,"y":44.4},{"r":29,"x":47.8,"y":45.3},{"r":29,"x":47.7,"y":44.8},{"r":29,"x":47.4,"y":45.1},{"r":29,"x":47.1,"y":44.9},{"r":29,"x":46.8,"y":45.2},{"r":29,"x":46.5,"y":44.8},{"r":29,"x":46.2,"y":45.1},{"r":29,"x":45.9,"y":44.8},{"r":29,"x":46.1,"y":44.4},{"r":29,"x":46.4,"y":44.2},{"r":29,"x":46.7,"y":44.5},{"r":29,"x":47.0,"y":44.1},{"r":29,"x":47.3,"y":44.6},{"r":29,"x":47.6,"y":44.2},{"r":29,"x":47.8,"y":44.7},
{"r":30,"x":45.9,"y":45.8},{"r":30,"x":46.1,"y":46.3},{"r":30,"x":46.3,"y":45.7},{"r":30,"x":46.5,"y":46.2},{"r":30,"x":46.7,"y":45.6},{"r":30,"x":46.9,"y":46.0},{"r":30,"x":47.1,"y":45.4},{"r":30,"x":47.3,"y":45.9},{"r":30,"x":47.0,"y":45.8},{"r":30,"x":46.6,"y":45.5},{"r":30,"x":46.2,"y":45.6},{"r":30,"x":45.8,"y":45.3},{"r":30,"x":45.6,"y":44.6},{"r":30,"x":45.8,"y":44.0},{"r":30,"x":46.0,"y":44.3},{"r":30,"x":46.2,"y":43.95},{"r":30,"x":46.4,"y":44.4},{"r":30,"x":46.6,"y":44.1},{"r":30,"x":46.8,"y":44.5}
  ]},
  "layer": [
    {
      "mark": {"type": "rect", "fill": "white", "fillOpacity": 0, "stroke": "#898989", "strokeWidth": 2.5},
      "encoding": {
        "x": {"datum": -8.78, "type": "quantitative"},
        "x2": {"datum": 57.42},
        "y": {"datum": 40.85, "type": "quantitative"},
        "y2": {"datum": 49.57}
      }
    },
    {
      "mark": {"type": "line", "interpolate": "catmull-rom", "color": "#4A7EBB", "strokeWidth": 3, "clip": true},
      "encoding": {
        "x": {"field": "x", "type": "quantitative", "scale": {"domain": [-5, 55], "nice": false, "zero": false},
          "axis": {"values": [-5, 5, 15, 25, 35, 45, 55], "labelExpr": "toString(datum.value)", "labelFlush": false, "labelOverlap": false, "title": "stretch (m)", "grid": false, "domainColor": "#898989", "domainWidth": 2.5, "tickColor": "#898989", "tickWidth": 2.5, "tickSize": 10, "labelFont": "Roboto", "labelFontSize": 34, "labelColor": "black", "labelPadding": 36, "titleFont": "Roboto", "titleFontSize": 35, "titleFontWeight": "normal", "titleColor": "black", "titlePadding": 43}},
        "y": {"field": "y", "type": "quantitative", "scale": {"domain": [43, 48], "nice": false, "zero": false},
          "axis": {"values": [43, 44, 45, 46, 47, 48], "labelExpr": "toString(datum.value)", "labelFlush": false, "labelOverlap": false, "title": "speed (km/h)", "offset": -107.5, "grid": false, "domainColor": "#898989", "domainWidth": 2.5, "tickColor": "#898989", "tickWidth": 2.5, "tickSize": 10, "labelFont": "Roboto", "labelFontSize": 34, "labelColor": "black", "labelPadding": 15, "titleFontSize": 37, "titleFont": "DejaVu Sans", "titleFontWeight": "normal", "titleColor": "black", "titlePadding": 42}},
        "detail": {"field": "r", "type": "nominal"},
        "order": {"value": null}
      }
    }
  ]
}
